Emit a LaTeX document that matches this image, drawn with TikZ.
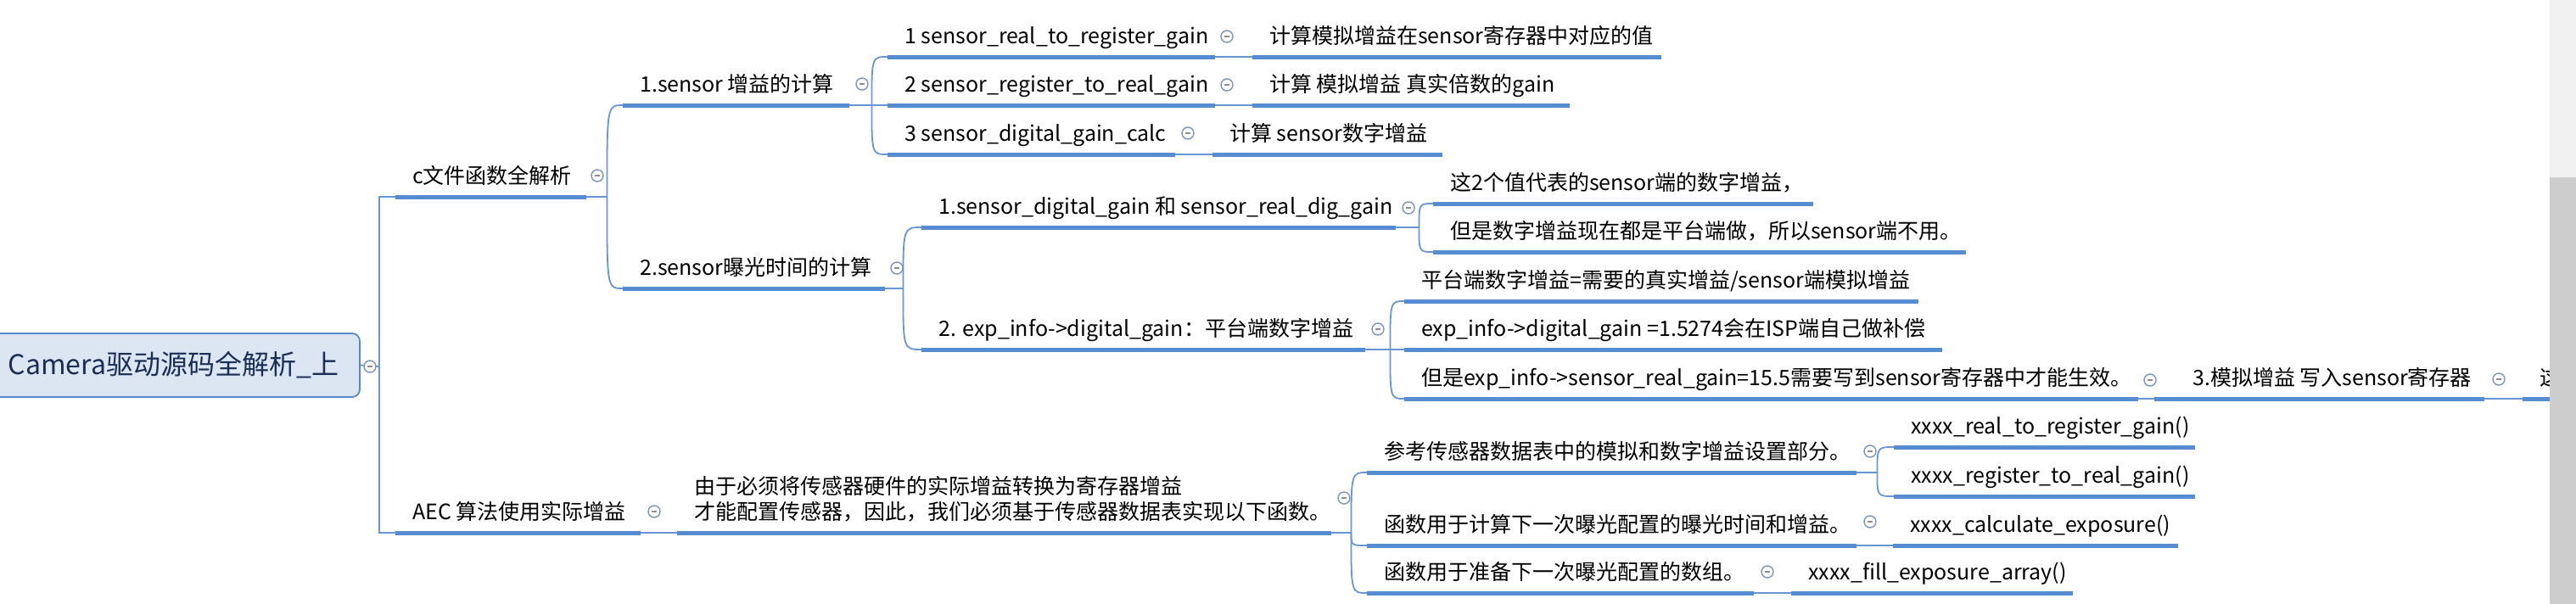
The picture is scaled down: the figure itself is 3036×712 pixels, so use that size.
\documentclass[tikz,border=0pt]{standalone}
\usepackage{fontspec}
\setmainfont{Noto Sans CJK SC}
\usetikzlibrary{calc}
\definecolor{ublue}{RGB}{86,140,210}
\definecolor{lblue}{RGB}{104,150,212}
\definecolor{rootfill}{RGB}{220,230,242}
\definecolor{rootedge}{RGB}{90,135,200}
\definecolor{roottext}{RGB}{25,45,85}
\definecolor{togedge}{RGB}{120,148,195}
\definecolor{togminus}{RGB}{140,140,150}
\definecolor{sbtrack}{RGB}{240,240,240}
\definecolor{sbthumb}{RGB}{205,205,205}
\tikzset{
 topic/.style={inner xsep=20pt, inner ysep=0pt, text depth=15pt, text height=25pt,
   anchor=south west, font=\fontsize{25}{29}\selectfont, text=black},
 uline/.style={draw=ublue, line width=5pt},
 conn/.style={draw=lblue, line width=1.8pt},
 rootbox/.style={rectangle, rounded corners=9pt, draw=rootedge, fill=rootfill, line width=1.8pt,
   minimum width=439pt, minimum height=75pt, inner sep=0pt,
   font=\fontsize{32}{38}\selectfont, text=roottext},
 tog/.style={circle, draw=togedge, fill=white, line width=1.4pt, minimum size=14pt, inner sep=0pt,
   path picture={\draw[togminus, line width=1.2pt]
     ($(path picture bounding box.center)-(3pt,0pt)$) -- ($(path picture bounding box.center)+(3pt,0pt)$);}},
}
% name, xs, xe, yul, text
\newcommand\topic[6][]{%
 \node[topic,#1] (#2) at (#3,#5) {\makebox[\dimexpr#4pt-#3pt-40pt\relax][l]{#6}};
 \draw[uline] (#2.south west) -- (#2.south east);}
% parent, junction offset, children
\newcommand\branch[3]{%
 \path (#1.south east) ++(#2,0) coordinate (#1-j);
 \draw[conn] (#1.south east) -- (#1-j);
 \foreach \ch in {#3} {\draw[conn] (#1-j) .. controls (#1-j |- \ch.south west) .. (\ch.south west);}}
\newcommand\link[2]{\draw[conn] (#1.south east) -- (#2.south west);}
\begin{document}
\begin{tikzpicture}[x=1pt,y=-1pt]
\useasboundingbox (0,0) rectangle (3036,712);
\fill[white] (0,0) rectangle (3036,712);

% root
\node[rootbox] (root) at (204.5,430.5) {Camera驱动源码全解析\_上};

% level 1
\topic{c}{466}{691}{232}{c文件函数全解析}
\topic{aec}{466}{755}{628}{AEC 算法使用实际增益}

% c branch
\topic{s1}{734}{1001}{124}{1.sensor 增益的计算}
\topic{s2}{734}{1043}{340}{2.sensor曝光时间的计算}

\topic{s1a}{1046}{1432}{67}{1 sensor\_real\_to\_register\_gain}
\topic{s1b}{1046}{1432}{124}{2 sensor\_register\_to\_real\_gain}
\topic{s1c}{1046}{1385}{182}{3 sensor\_digital\_gain\_calc}
\topic{s1a1}{1476}{1958}{67}{计算模拟增益在sensor寄存器中对应的值}
\topic{s1b1}{1476}{1850}{124}{计算 模拟增益 真实倍数的gain}
\topic{s1c1}{1429}{1700}{182}{计算 sensor数字增益}

\topic{s2a}{1086}{1645}{268}{1.sensor\_digital\_gain 和 sensor\_real\_dig\_gain}
\topic{s2b}{1086}{1609}{412}{2. exp\_info->digital\_gain：平台端数字增益}
\topic{s2a1}{1689}{2137}{240}{这2个值代表的sensor端的数字增益，}
\topic{s2a2}{1689}{2317}{297}{但是数字增益现在都是平台端做，所以sensor端不用。}
\topic{s2b1}{1655}{2261}{355}{平台端数字增益=需要的真实增益/sensor端模拟增益}
\topic{s2b2}{1655}{2289}{412}{exp\_info->digital\_gain =1.5274会在ISP端自己做补偿}
\topic{s2b3}{1655}{2520}{470}{但是exp\_info->sensor\_real\_gain=15.5需要写到sensor寄存器中才能生效。}
\topic{s2b3a}{2539}{2928}{470}{\hspace{25pt}3.模拟增益 写入sensor寄存器}
\topic{s2b3b}{2973}{3040}{470}{这}

% aec branch
\topic{aecd}{798}{1569}{628}{\begin{tabular}[b]{@{}l@{}}由于必须将传感器硬件的实际增益转换为寄存器增益\\才能配置传感器，因此，我们必须基于传感器数据表实现以下函数。\end{tabular}}
\topic{a1}{1611}{2188}{557}{参考传感器数据表中的模拟和数字增益设置部分。}
\topic{a2}{1611}{2188}{643}{函数用于计算下一次曝光配置的曝光时间和增益。}
\topic{a3}{1611}{2067}{699}{函数用于准备下一次曝光配置的数组。}
\topic{a1a}{2232}{2587}{527}{xxxx\_real\_to\_register\_gain()}
\topic{a1b}{2232}{2587}{585}{xxxx\_register\_to\_real\_gain()}
\topic{a2a}{2231}{2567}{643}{xxxx\_calculate\_exposure()}
\topic{a3a}{2111}{2443}{699}{xxxx\_fill\_exposure\_array()}

% connectors
\coordinate (trunk) at (447,432);
\draw[conn] (root.east) -- (trunk);
\draw[conn] (c.south west) -| (trunk) |- (aec.south west);

\branch{c}{24}{s1,s2}
\branch{s1}{26}{s1a,s1b,s1c}
\branch{s2}{21}{s2a,s2b}
\branch{s2a}{27}{s2a1,s2a2}
\branch{s2b}{29}{s2b1,s2b2,s2b3}
\branch{aecd}{23}{a1,a2,a3}
\branch{a1}{24}{a1a,a1b}
\link{s1a}{s1a1}
\link{s1b}{s1b1}
\link{s1c}{s1c1}
\link{s2b3}{s2b3a}
\link{s2b3a}{s2b3b}
\link{aec}{aecd}
\link{a2}{a2a}
\link{a3}{a3a}

% collapse toggles
\node[tog] (t0) at (436,432) {};
\node[tog] (tc) at (704,207) {};
\node[tog] (ts1) at (1016,99) {};
\node[tog] (ts2) at (1057,316) {};
\node[tog] (ts1a) at (1446,43) {};
\node[tog] (ts1b) at (1446,100) {};
\node[tog] (ts1c) at (1400,157) {};
\node[tog] (ts2a) at (1660,245) {};
\node[tog] (ts2b) at (1624,388) {};
\node[tog] (ts2b3) at (2534,448) {};
\node[tog] (ts2b3a) at (2945,447) {};
\node[tog] (taec) at (771,603) {};
\node[tog] (taecd) at (1584,587) {};
\node[tog] (ta1) at (2204,532) {};
\node[tog] (ta2) at (2204,615) {};
\node[tog] (ta3) at (2083,674) {};

% scrollbar
\fill[sbtrack] (3005,0) rectangle (3036,209);
\fill[sbthumb] (3005,209) rectangle (3036,712);
\end{tikzpicture}
\end{document}
